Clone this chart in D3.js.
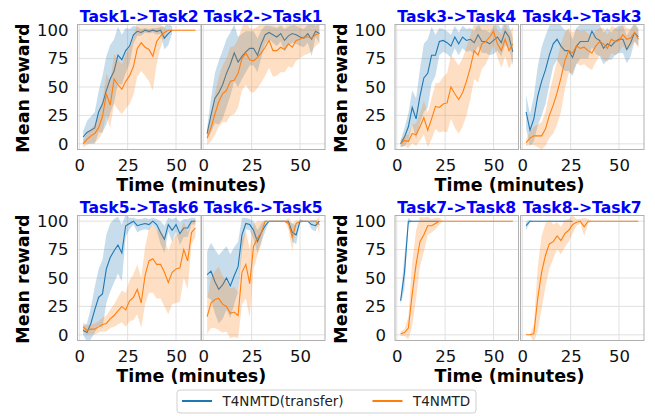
<!DOCTYPE html>
<html>
<head>
<meta charset="utf-8">
<script src="https://cdn.jsdelivr.net/npm/d3@7"></script>
<style>
  body { margin: 0; background: #fff; }
  svg { display: block; font-family: "DejaVu Sans", sans-serif; }
</style>
</head>
<body>
<div id="chart"></div>
<script>
// sample times (minutes)
const minutes = [2, 4, 6, 8, 10, 12, 14, 16, 18, 20, 22, 24, 26, 28, 30,
                 32, 34, 36, 38, 40, 42, 44, 46, 48, 50, 52, 54, 56, 58, 60];

const panelTitles = ["Task1->Task2", "Task2->Task1", "Task3->Task4", "Task4->Task3",
                     "Task5->Task6", "Task6->Task5", "Task7->Task8", "Task8->Task7"];
const seriesNames = ["T4NMTD(transfer)", "T4NMTD"];
const xTicks = [0, 25, 50];
const yTicks = [0, 25, 50, 75, 100];

// Task1->Task2
const transferMean1 = [6, 10, 12, 14, 28, 35, 47, 57, 64, 78, 74, 82, 86, 96, 99, 98, 100, 99, 100, 99, 100, 93, 97, 100];
const transferSd1   = [5, 10, 12, 14, 18, 25, 30, 30, 28, 25, 22, 20, 15, 8, 4, 3, 2, 2, 2, 3, 3, 10, 10, 3];
const baseMean1 = [0, 4, 7, 9, 14, 24, 44, 34, 57, 52, 48, 55, 60, 68, 84, 89, 85, 83, 77, 90, 95, 98, 100, 100, 100, 100, 100, 100, 100, 100];
const baseSd1   = [3, 5, 6, 8, 10, 14, 18, 20, 22, 22, 22, 24, 25, 25, 25, 25, 25, 28, 30, 20, 10, 4, 0, 0, 0, 0, 0, 0, 0, 0];

// Task2->Task1
const transferMean2 = [9, 25, 40, 45, 52, 62, 70, 80, 72, 77, 81, 84, 84, 78, 88, 96, 98, 96, 94, 97, 91, 95, 97, 96, 94, 93, 97, 92, 99, 97];
const transferSd2   = [5, 15, 22, 28, 30, 30, 28, 25, 22, 20, 18, 15, 15, 15, 12, 8, 6, 7, 8, 7, 10, 8, 8, 8, 8, 8, 8, 15, 5, 8];
const baseMean2 = [5, 14, 26, 37, 44, 47, 55, 56, 62, 75, 80, 74, 73, 76, 80, 85, 91, 82, 82, 85, 83, 88, 85, 91, 92, 94, 94, 93, 96, 97];
const baseSd2   = [6, 12, 18, 22, 25, 28, 30, 30, 30, 28, 28, 28, 28, 27, 26, 25, 24, 23, 22, 22, 20, 20, 18, 18, 17, 16, 15, 12, 10, 8];

// Task3->Task4
const transferMean3 = [0, 6, 15, 32, 22, 42, 58, 62, 78, 78, 90, 91, 89, 86, 94, 88, 94, 91, 92, 89, 96, 90, 90, 88, 91, 94, 89, 99, 94, 81];
const transferSd3   = [3, 8, 12, 15, 18, 24, 30, 30, 25, 18, 12, 10, 10, 10, 10, 10, 10, 10, 10, 10, 10, 10, 10, 10, 12, 12, 12, 12, 10, 12];
const baseMean3 = [0, 3, 2, 9, 8, 15, 23, 12, 22, 33, 32, 35, 36, 50, 44, 39, 45, 55, 67, 82, 78, 88, 90, 94, 99, 88, 82, 92, 82, 88];
const baseSd3   = [3, 5, 6, 8, 10, 12, 15, 15, 18, 20, 22, 24, 26, 28, 30, 30, 30, 30, 28, 25, 24, 22, 20, 16, 12, 12, 15, 15, 16, 15];

// Task4->Task3
const transferMean4 = [28, 12, 22, 42, 55, 65, 78, 88, 92, 86, 82, 82, 76, 86, 90, 90, 90, 99, 93, 91, 84, 88, 86, 90, 92, 92, 83, 89, 98, 94];
const transferSd4   = [15, 14, 20, 26, 30, 30, 26, 20, 18, 18, 18, 18, 16, 16, 15, 15, 15, 14, 14, 14, 14, 14, 12, 12, 12, 12, 12, 12, 8, 8];
const baseMean4 = [1, 5, 7, 7, 7, 13, 25, 34, 45, 58, 73, 82, 80, 86, 84, 85, 82, 80, 86, 90, 88, 84, 92, 90, 91, 96, 92, 93, 98, 92];
const baseSd4   = [3, 6, 8, 10, 12, 15, 20, 25, 28, 30, 25, 20, 18, 15, 15, 15, 15, 15, 14, 12, 14, 12, 12, 12, 10, 10, 10, 8, 8, 8];

// Task5->Task6
const transferMean5 = [4, 2, 10, 22, 33, 36, 58, 68, 74, 79, 72, 96, 98, 100, 96, 97, 98, 97, 100, 97, 90, 84, 97, 92, 97, 89, 94, 94, 100, 100];
const transferSd5   = [4, 8, 14, 20, 25, 30, 30, 30, 28, 25, 25, 10, 5, 3, 6, 5, 5, 5, 3, 5, 10, 12, 6, 10, 6, 10, 8, 8, 3, 3];
const baseMean5 = [7, 4, 5, 5, 7, 9, 10, 14, 17, 21, 25, 22, 30, 33, 40, 28, 52, 65, 67, 62, 62, 55, 46, 55, 58, 59, 75, 65, 90, 94];
const baseSd5   = [4, 4, 4, 5, 5, 6, 7, 8, 10, 12, 14, 15, 18, 20, 22, 22, 25, 28, 30, 30, 30, 30, 28, 28, 30, 30, 25, 25, 10, 8];

// Task6->Task5
const transferMean6 = [53, 56, 47, 40, 44, 50, 43, 52, 60, 88, 98, 97, 92, 82, 90, 96, 100, 100, 100, 100, 100, 100, 90, 88, 100, 100, 100, 97, 96, 100];
const transferSd6   = [20, 25, 28, 30, 30, 28, 28, 25, 22, 15, 5, 5, 8, 10, 8, 5, 0, 0, 0, 0, 0, 0, 8, 8, 2, 0, 0, 4, 5, 0];
const baseMean6 = [16, 28, 31, 32, 27, 25, 19, 20, 17, 55, 62, 45, 78, 85, 90, 100, 100, 100, 100, 100, 100, 98, 86, 98, 100, 100, 100, 100, 100, 97];
const baseSd6   = [15, 22, 25, 28, 25, 22, 22, 22, 20, 28, 30, 30, 20, 15, 10, 0, 0, 0, 0, 0, 0, 5, 12, 3, 0, 0, 0, 0, 0, 8];

// Task7->Task8
const transferMean7 = [30, 55, 100, 100, 100, 100, 100, 100, 100, 100, 100];
const transferSd7   = [3, 15, 3, 0, 0, 0, 0, 0, 0, 0, 0];
const baseMean7 = [1, 2, 6, 36, 62, 82, 88, 96, 96, 98, 100, 100, 100, 100, 100, 100, 100, 100, 100, 100, 100, 100, 100, 100, 100, 100, 100, 100, 100, 100];
const baseSd7   = [2, 3, 10, 28, 30, 22, 15, 8, 6, 5, 3, 0, 0, 0, 0, 0, 0, 0, 0, 0, 0, 0, 0, 0, 0, 0, 0, 0, 0, 0];

// Task8->Task7
const transferMean8 = [96, 100, 100, 100, 100, 100, 100, 100, 100, 100, 100, 100, 100];
const transferSd8   = [4, 1, 0, 0, 0, 0, 0, 0, 0, 0, 0, 0, 0];
const baseMean8 = [0, 0, 1, 32, 55, 70, 80, 82, 87, 83, 89, 92, 97, 99, 100, 95, 100, 100, 100, 100, 100, 100, 100, 100, 100, 100, 100, 100, 100, 100];
const baseSd8   = [0, 0, 8, 28, 32, 28, 22, 15, 12, 12, 12, 10, 8, 3, 2, 8, 2, 0, 0, 0, 0, 0, 0, 0, 0, 0, 0, 0, 0, 0];

const transferMeans = [transferMean1, transferMean2, transferMean3, transferMean4, transferMean5, transferMean6, transferMean7, transferMean8];
const transferSds = [transferSd1, transferSd2, transferSd3, transferSd4, transferSd5, transferSd6, transferSd7, transferSd8];
const baseMeans = [baseMean1, baseMean2, baseMean3, baseMean4, baseMean5, baseMean6, baseMean7, baseMean8];
const baseSds = [baseSd1, baseSd2, baseSd3, baseSd4, baseSd5, baseSd6, baseSd7, baseSd8];

const colors = ["#1f77b4", "#ff7f0e"];

// Layout
const W = 655, H = 416;
const panelW = 123.5;
const colLeft = [77.5, 201.5, 395, 520.5];
const rowTop = [24.5, 215.5];
const panelH = 125;

const svg = d3.select("#chart").append("svg")
    .attr("width", W)
    .attr("height", H)

svg.append("rect").attr("width", W).attr("height", H).attr("fill", "white")

function toPoints(means, sds) {
    return means.map((m, i) => ({t: minutes[i], m: m, lo: m - sds[i], hi: m + sds[i]}))
}

for (let p = 0; p < 8; p++) {
    const row = Math.floor(p / 4)
    const col = p % 4
    const x0 = colLeft[col], y0 = rowTop[row]

    const x = d3.scaleLinear().domain([-0.9, 62.9]).range([x0, x0 + panelW])
    const y = d3.scaleLinear().domain([-5, 105]).range([y0 + panelH, y0])

    const g = svg.append("g")

    // grid
    g.selectAll(".gx").data(xTicks).enter().append("line")
        .attr("x1", d => x(d)).attr("x2", d => x(d))
        .attr("y1", y0).attr("y2", y0 + panelH)
        .attr("stroke", "#dedede").attr("stroke-width", 0.9)
    g.selectAll(".gy").data(yTicks).enter().append("line")
        .attr("x1", x0).attr("x2", x0 + panelW)
        .attr("y1", d => y(d)).attr("y2", d => y(d))
        .attr("stroke", "#dedede").attr("stroke-width", 0.9)

    // clip to axes
    const clipId = "clip" + p
    svg.append("clipPath").attr("id", clipId)
        .append("rect").attr("x", x0).attr("y", y0).attr("width", panelW).attr("height", panelH)
    const plot = g.append("g").attr("clip-path", "url(#" + clipId + ")")

    const series = [toPoints(transferMeans[p], transferSds[p]), toPoints(baseMeans[p], baseSds[p])]
    const area = d3.area().x(d => x(d.t)).y0(d => y(d.lo)).y1(d => y(d.hi))
    const line = d3.line().x(d => x(d.t)).y(d => y(d.m))

    series.forEach((s, i) => {
        plot.append("path").datum(s)
            .attr("d", area)
            .attr("fill", colors[i])
            .attr("fill-opacity", 0.25)
        plot.append("path").datum(s)
            .attr("d", line)
            .attr("fill", "none")
            .attr("stroke", colors[i])
            .attr("stroke-width", 1.1)
    })

    // frame
    g.append("rect")
        .attr("x", x0).attr("y", y0).attr("width", panelW).attr("height", panelH)
        .attr("fill", "none").attr("stroke", "#b0b0b0").attr("stroke-width", 1)

    // x tick labels
    const xAxis = d3.axisBottom(x).tickValues(xTicks).tickSize(0).tickPadding(10)
    const xa = g.append("g").attr("transform", "translate(0," + (y0 + panelH) + ")").call(xAxis)
    xa.select(".domain").remove()
    xa.selectAll("text").attr("font-size", "16.5px").attr("fill", "#111").attr("font-family", "DejaVu Sans")

    // y tick labels on left panel of each pair
    if (col % 2 === 0) {
        const yAxis = d3.axisLeft(y).tickValues(yTicks).tickSize(0).tickPadding(9)
        const ya = g.append("g").attr("transform", "translate(" + x0 + ",0)").call(yAxis)
        ya.select(".domain").remove()
        ya.selectAll("text").attr("font-size", "16.5px").attr("fill", "#111").attr("font-family", "DejaVu Sans")

        svg.append("text")
            .attr("transform", "translate(" + (x0 - 48.5) + "," + (y0 + panelH / 2 + 1) + ") rotate(-90)")
            .attr("text-anchor", "middle")
            .attr("font-size", "17.5px").attr("font-weight", "bold")
            .text("Mean reward")

        svg.append("text")
            .attr("x", (x0 + colLeft[col + 1] + panelW) / 2 - 10)
            .attr("y", y0 + panelH + 41)
            .attr("text-anchor", "middle")
            .attr("font-size", "17.5px").attr("font-weight", "bold")
            .text("Time (minutes)")
    }

    // title
    svg.append("text")
        .attr("x", x0 + panelW / 2)
        .attr("y", y0 - 3)
        .attr("text-anchor", "middle")
        .attr("font-size", "15.6px").attr("font-weight", "bold")
        .attr("fill", "#0000ff")
        .text(panelTitles[p])
}

// Legend
const leg = svg.append("g")
leg.append("rect")
    .attr("x", 177).attr("y", 390).attr("width", 299).attr("height", 23).attr("rx", 3)
    .attr("fill", "white").attr("stroke", "#d0d0d0").attr("stroke-width", 1)
const legX = [182, 372.5]
seriesNames.forEach((name, i) => {
    leg.append("line")
        .attr("x1", legX[i]).attr("x2", legX[i] + 30)
        .attr("y1", 401).attr("y2", 401)
        .attr("stroke", colors[i]).attr("stroke-width", 2)
    leg.append("text")
        .attr("x", legX[i] + 40.5).attr("y", 406)
        .attr("font-size", "13.5px").attr("fill", "#222")
        .text(name)
})
</script>
</body>
</html>
